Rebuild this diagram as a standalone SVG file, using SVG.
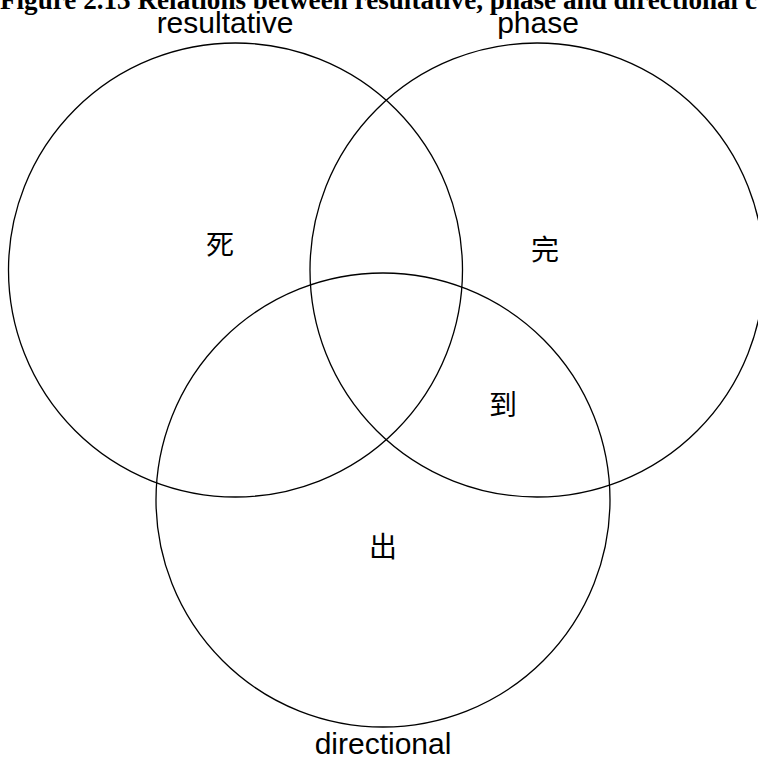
<svg xmlns="http://www.w3.org/2000/svg" width="758" height="760" viewBox="0 0 758 760">
  <style>
    .set { fill: none; stroke: #000; stroke-width: 1.3; }
    .lbl { font-family: "Liberation Sans", Arial, sans-serif; font-size: 30px; fill: #000; text-anchor: middle; }
    .cjk { font-family: "Liberation Sans", "Noto Sans CJK SC", sans-serif; font-size: 28px; fill: #000; text-anchor: middle; }
    .title { font-family: "Liberation Serif", "Times New Roman", serif; font-size: 27px; font-weight: bold; fill: #000; }
  </style>
  <rect width="758" height="760" fill="#fff"/>
  <text class="title" x="0" y="9" textLength="757" lengthAdjust="spacingAndGlyphs">Figure 2.13 Relations between resultative, phase and directional c</text>
  <g id="resultative">
    <circle class="set" cx="235.5" cy="270" r="227"/>
    <text class="lbl" x="225" y="33">resultative</text>
  </g>
  <g id="phase">
    <circle class="set" cx="537" cy="270" r="227"/>
    <text class="lbl" x="538" y="33">phase</text>
  </g>
  <g id="directional">
    <circle class="set" cx="383" cy="500" r="227"/>
    <text class="lbl" x="383" y="754">directional</text>
  </g>
  <g id="connectors"/>
  <g id="items">
    <text id="si" class="cjk" x="220" y="255">死</text>
    <text id="wan" class="cjk" x="545" y="260">完</text>
    <text id="dao" class="cjk" x="503" y="415">到</text>
    <text id="chu" class="cjk" x="383" y="557">出</text>
  </g>
</svg>
